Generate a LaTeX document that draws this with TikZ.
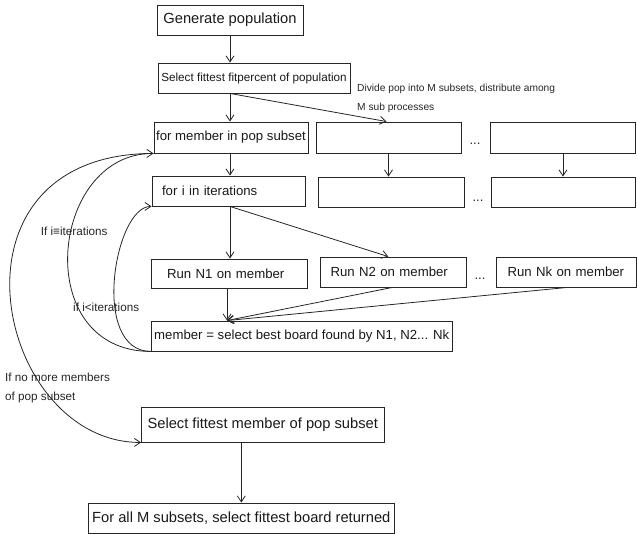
\documentclass[tikz,border=0pt]{standalone}
\usepackage{fontspec}
\setmainfont{Liberation Sans}
\usetikzlibrary{arrows.meta,calc}
\begin{document}
\begin{tikzpicture}[x=1pt,y=-1pt,
  box/.style={draw=black!85, line width=0.9pt, inner sep=0pt, align=center, text=black!90},
  lbox/.style={box, align=left},
  arr/.style={draw=black!85, line width=0.8pt, -{Straight Barb[length=6pt,width=8pt,line width=0.8pt]}},
  lab/.style={anchor=west, inner sep=0pt, text=black!85},
  fA/.style={font=\fontsize{13.2}{15}\selectfont},
  fB/.style={font=\fontsize{14.7}{17}\selectfont},
  fC/.style={font=\fontsize{11.7}{14}\selectfont},
  fD/.style={font=\fontsize{10.2}{12}\selectfont},
  dots/.style={inner sep=0pt, text=black!85, font=\fontsize{13.2}{15}\selectfont}
]
\useasboundingbox (0,0) rectangle (637,534);

% main column
\node[box,fB,minimum width=146pt,minimum height=30pt] (gen) at (230,20) {Generate population};
\node[box,fC,minimum width=192pt,minimum height=30pt] (sel) at (254,78) {Select fittest fitpercent of population};
\node[box,fA,minimum width=154pt,minimum height=31pt] (fm) at (231,137.5) {for member in pop subset};
\node[box,minimum width=145pt,minimum height=31pt] (e1) at (388.5,137.5) {};
\node[box,minimum width=145pt,minimum height=31pt] (e2) at (563,137.5) {};
\node[dots] (d1) at (475,144) {...};

\node[lbox,fA,minimum width=153.5pt,minimum height=30pt,text width=133.5pt,inner xsep=10pt] (fi) at (228.75,191) {for i in iterations};
\node[box,minimum width=146pt,minimum height=30pt] (e3) at (391,192) {};
\node[box,minimum width=144pt,minimum height=30pt] (e4) at (563.5,192) {};
\node[dots] (d2) at (478,201) {...};

\node[lbox,fA,minimum width=156.5pt,minimum height=29pt,text width=124.5pt,inner xsep=16pt] (n1) at (229.25,273.5) {Run N1 on member};
\node[lbox,fA,minimum width=145.5pt,minimum height=30pt,text width=125.5pt,inner xsep=10pt] (n2) at (393.25,272) {Run N2 on member};
\node[lbox,fA,minimum width=139.5pt,minimum height=30pt,text width=117.5pt,inner xsep=11pt] (nk) at (566.25,272) {Run Nk on member};
\node[dots] (d3) at (480,279) {...};

\node[box,fA,minimum width=300.5pt,minimum height=30pt] (mem) at (301.75,336) {member = select best board found by N1, N2... Nk};
\node[box,fB,minimum width=242.5pt,minimum height=35pt] (sm) at (262.75,424.5) {Select fittest member of pop subset};
\node[box,fB,minimum width=305.4pt,minimum height=30pt] (fa) at (241.3,518) {For all M subsets, select fittest board returned};

% labels
\node[lab,fD] (div1) at (357,89) {Divide pop into M subsets, distribute among};
\node[lab,fD] (div2) at (357,108) {M sub processes};
\node[lab,fC] (l1) at (40.7,231) {If i≡iterations};
\node[lab,fC] (l2) at (73,307) {if i<iterations};
\node[lab,fC] (l3) at (5,377) {If no more members};
\node[lab,fC] (l4) at (5,397.7) {of pop subset};

% straight connectors
\draw[arr] (gen.south) -- (sel.north -| gen.south);
\draw[arr] (sel.south -| gen.south) -- (fm.north -| gen.south);
\draw[arr] (sel.south -| gen.south) -- ($(e1.north)+(-2,0)$);
\draw[arr] (fm.south -| gen.south) -- (fi.north -| gen.south);
\draw[arr] (e1.south) -- (e3.north -| e1.south);
\draw[arr] (e2.south) -- (e4.north -| e2.south);
\draw[arr] (fi.south -| gen.south) -- (n1.north -| gen.south);
\draw[arr] (fi.south -| gen.south) -- ($(n2.north)+(-5,0)$);
\coordinate (tip) at ($(mem.north west)+(76,0)$);
\draw[arr] (n1.south -| tip) -- (tip);
\draw[arr] ($(n2.south)+(-1,0)$) -- (tip);
\draw[arr] ($(nk.south)+(1,0)$) -- (tip);
\draw[arr] (sm.south -| fa.north) -- (fa.north);

% loop curves
\draw[arr] (fm.south west) .. controls +(-219,0) and +(-146,0) .. (sm.south west);
\draw[arr] (mem.south west) .. controls +(-121,0) and +(-104,0) .. (fm.south west);
\draw[arr] (mem.south west) .. controls +(-61,0) and +(-37,0) .. (fi.south west);
\end{tikzpicture}
\end{document}
